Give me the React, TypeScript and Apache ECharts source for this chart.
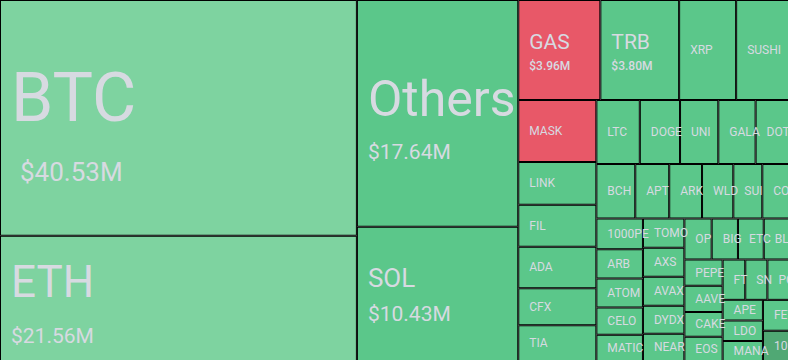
import React, { useEffect, useRef } from "react";
import * as echarts from "echarts";

// Liquidation volume by coin, in $M
const names = [
  "BTC", "ETH", "Others", "SOL", "GAS", "TRB", "XRP", "SUSHI",
  "MASK", "LINK", "FIL", "ADA", "CFX", "TIA",
  "LTC", "DOGE", "UNI", "GALA", "DOT",
  "BCH", "APT", "ARK", "WLD", "SUI", "COMP",
  "1000PEPE", "ARB", "ATOM", "CELO", "MATIC",
  "TOMO", "AXS", "AVAX", "DYDX", "NEAR",
  "OP", "BIGTIME", "ETC", "BLUR",
  "PEPE", "AAVE", "CAKE", "EOS",
  "FTM", "SNX", "POLYX",
  "APE", "LDO", "MANA",
  "FET", "1000SHIB",
];
const values = [
  40.53, 21.56, 17.64, 10.43, 3.96, 3.8, 2.75, 2.55,
  2.33, 1.61, 1.58, 1.56, 1.39, 1.35,
  1.34, 1.24, 1.18, 1.15, 1.03,
  1.02, 0.89, 0.86, 0.82, 0.76, 0.7,
  0.69, 0.66, 0.65, 0.61, 0.59,
  0.585, 0.58, 0.575, 0.56, 0.545,
  0.54, 0.52, 0.51, 0.5,
  0.485, 0.48, 0.46, 0.445,
  0.44, 0.43, 0.42,
  0.4, 0.398, 0.39,
  0.388, 0.38,
];
// price direction groups
const falling = ["GAS", "MASK"];
const strongRise = ["BTC", "ETH"];
const mildRise = ["1000SHIB"];

const TEXT = "#D7DAE1";
const FONT = "Roboto, 'Noto Sans', sans-serif";

const headline: Record<string, { n: number; v: number; l1: number; l2: number; top: number; pad?: number; dist: number; w?: number }> = {
  BTC: { n: 68, v: 26, l1: 111, l2: 39, top: 41, pad: 9, dist: 10 },
  ETH: { n: 44, v: 21, l1: 75, l2: 33, top: 8, dist: 10 },
  Others: { n: 50, v: 21, l1: 76, l2: 31, top: 60, dist: 10 },
  SOL: { n: 26, v: 21, l1: 39, l2: 32, top: 31, dist: 10 },
  GAS: { n: 21, v: 12, l1: 32, l2: 17, top: 25, dist: 10, w: 500 },
  TRB: { n: 21, v: 12, l1: 32, l2: 17, top: 25, dist: 10, w: 500 },
};

function colorFor(name: string) {
  if (falling.includes(name)) return "#E85868";
  if (strongRise.includes(name)) return "#7ED3A0";
  if (mildRise.includes(name)) return "#50A874";
  return "#5BC78A";
}

export default function App() {
  const ref = useRef<HTMLDivElement>(null);
  useEffect(() => {
    if (!ref.current) return;
    const chart = echarts.init(ref.current, undefined, { renderer: "svg" });
    const data = names.map((name, i) => {
      const h = headline[name];
      const fmtVal = "$" + values[i].toFixed(2) + "M";
      const label: any = h
        ? {
            show: true,
            position: "insideLeft",
            distance: h.dist,
            padding: [h.top, 0, 0, 0],
            formatter: `{n|${name}}\n{v|${fmtVal}}`,
            rich: {
              n: { fontSize: h.n, lineHeight: h.l1, color: TEXT, fontFamily: FONT },
              v: {
                fontSize: h.v,
                lineHeight: h.l2,
                color: TEXT,
                fontFamily: FONT,
                fontWeight: h.w || 400,
                padding: [0, 0, 0, h.pad || 0],
              },
            },
          }
        : {
            show: true,
            position: "insideLeft",
            distance: 10,
            padding: 0,
            formatter: name,
            fontSize: 12,
            color: TEXT,
            fontFamily: FONT,
            overflow: "truncate",
            ellipsis: "",
          };
      return {
        name,
        value: values[i],
        itemStyle: { color: colorFor(name) },
        label,
      };
    });
    chart.setOption({
      animation: false,
      series: [
        {
          type: "treemap",
          left: 0,
          top: 0,
          width: "100%",
          height: "100%",
          roam: false,
          nodeClick: false,
          breadcrumb: { show: false },
          emphasis: { disabled: true },
          levels: [
            { itemStyle: { borderWidth: 0, gapWidth: 0 } },
            { itemStyle: { borderWidth: 1, borderColor: "#000", gapWidth: 0 } },
          ],
          data,
        },
      ],
    });
    return () => chart.dispose();
  }, []);
  return (
    <div
      ref={ref}
      style={{ position: "fixed", left: 0, top: 0, width: 789, height: 361, background: "#000" }}
    />
  );
}
